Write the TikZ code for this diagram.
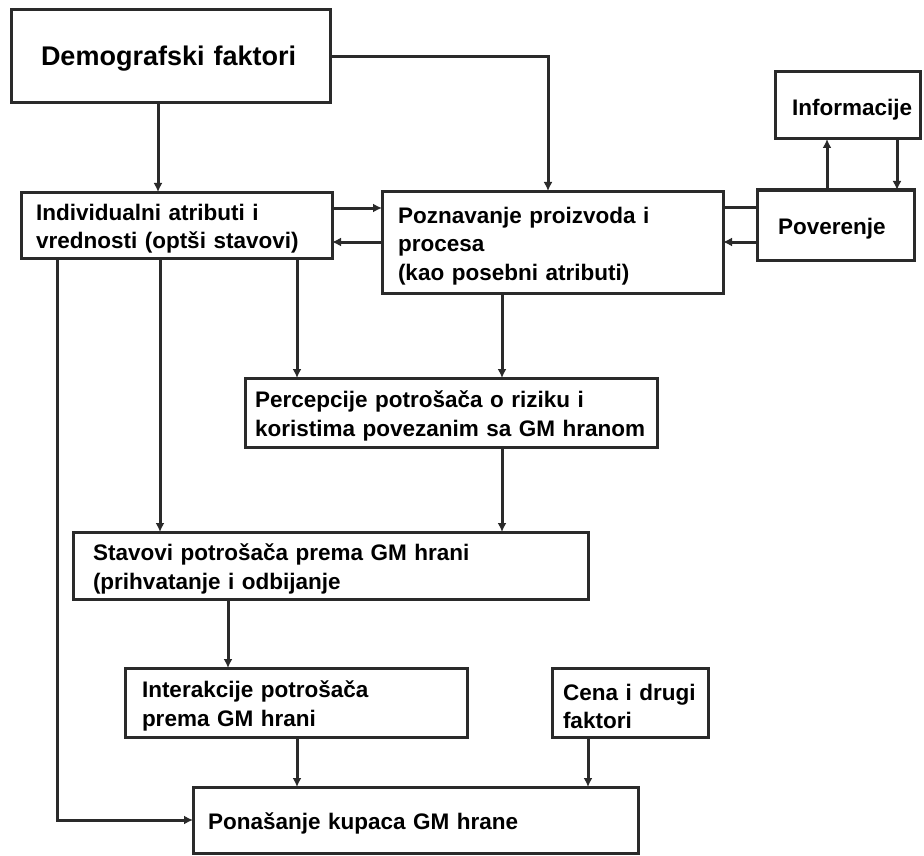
\documentclass[tikz,border=0pt]{standalone}
\usepackage{fontspec}
\setmainfont{Liberation Sans}
\usetikzlibrary{arrows.meta,calc}
\definecolor{linec}{HTML}{2A2A2A}
\begin{document}
\begin{tikzpicture}[x=1pt,y=-1pt,
  box/.style={draw=linec, line width=3pt, fill=white, align=left, inner ysep=0pt, outer sep=0pt,
    font=\fontsize{22.5}{28.5}\selectfont\bfseries, execute at begin node={\rule{0pt}{24pt}}},
  conn/.style={draw=linec, line width=3pt, -{Latex[length=9pt,width=9pt]}},
  linkline/.style={draw=linec, line width=3pt}]
\fill[white] (0,0) rectangle (924,856);
\useasboundingbox (0,0) rectangle (924,856);

\node[box, minimum height=93pt, inner xsep=30pt, text width=259pt,
  font=\fontsize{27}{31}\selectfont\bfseries] (demo) at (170.5,56.5) {\mbox{Demografski faktori}};
\node[box, minimum height=66pt, inner xsep=15pt, text width=281pt] (indiv) at (176.5,225)
  {\mbox{Individualni atributi i}\\\mbox{vrednosti (optši stavovi)}};
\node[box, minimum height=102pt, inner xsep=16pt, text width=309pt] (pozn) at (552.5,242)
  {\mbox{Poznavanje proizvoda i}\\\mbox{procesa}\\\mbox{(kao posebni atributi)}};
\node[box, minimum height=70pt, inner xsep=21pt, text width=115pt] (pover) at (835.5,225)
  {\mbox{Poverenje}};
\node[box, minimum height=67pt, inner xsep=17pt, text width=111pt] (info) at (847.5,105.5)
  {\mbox{Informacije}};
\node[box, minimum height=69pt, inner xsep=10pt, text width=392pt] (perc) at (451,412.5)
  {\mbox{Percepcije potrošača o riziku i}\\\mbox{koristima povezanim sa GM hranom}};
\node[box, minimum height=67pt, inner xsep=20pt, text width=475pt] (stav) at (330.5,565.5)
  {\mbox{Stavovi potrošača prema GM hrani}\\\mbox{(prihvatanje i odbijanje}};
\node[box, minimum height=69pt, inner xsep=17pt, text width=308pt] (inter) at (296,702.5)
  {\mbox{Interakcije potrošača}\\\mbox{prema GM hrani}};
\node[box, minimum height=69pt, inner xsep=11pt, text width=134pt] (cena) at (630,702.5)
  {\mbox{Cena i drugi}\\\mbox{faktori}};
\node[box, minimum height=66pt, inner xsep=15pt, text width=415pt] (pona) at (415.5,820)
  {\mbox{Ponašanje kupaca GM hrane}};

% connectors
\draw[conn] (demo.south -| 158,0) -- (indiv.north -| 158,0);
\draw[conn] (demo.east) -| (pozn.north -| 548,0);
\draw[conn] (indiv.east |- 0,208) -- (pozn.west |- 0,208);
\draw[conn] (pozn.west |- 0,242) -- (indiv.east |- 0,242);
\draw[linkline] (pover.west |- 0,207) -- (pozn.east |- 0,207);
\draw[conn] (pover.west |- 0,242) -- (pozn.east |- 0,242);
\draw[conn] (pover.north -| 827,0) -- (info.south -| 827,0);
\draw[conn] (info.south -| 897,0) -- (pover.north -| 897,0);
\draw[conn] (indiv.south -| 297,0) -- (perc.north -| 297,0);
\draw[conn] (pozn.south -| 502,0) -- (perc.north -| 502,0);
\draw[conn] (indiv.south -| 160,0) -- (stav.north -| 160,0);
\draw[conn] (perc.south -| 502,0) -- (stav.north -| 502,0);
\draw[conn] (indiv.south -| 57,0) |- (pona.west);
\draw[conn] (stav.south -| 228,0) -- (inter.north -| 228,0);
\draw[conn] (inter.south -| 297,0) -- (pona.north -| 297,0);
\draw[conn] (cena.south -| 588,0) -- (pona.north -| 588,0);
\end{tikzpicture}
\end{document}
